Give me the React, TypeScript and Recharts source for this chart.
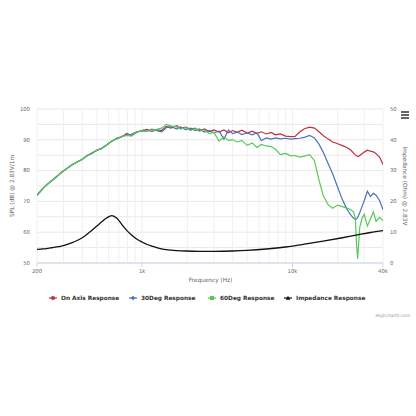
import React from 'react';
import { LineChart, Line, XAxis, YAxis, CartesianGrid, Legend } from 'recharts';

const freqs = [200, 215, 230, 250, 270, 290, 315, 340, 370, 400, 430, 460, 500, 540, 580, 630, 680, 730, 790, 850, 920, 1000, 1080, 1160, 1250, 1350, 1450, 1550, 1700, 1800, 1950, 2100, 2250, 2400, 2600, 2800, 3000, 3250, 3500, 3750, 4000, 4300, 4600, 5000, 5400, 5800, 6200, 6700, 7200, 7700, 8300, 9000, 9700, 10400, 11200, 12000, 13000, 14000, 15000, 16000, 17200, 18500, 20000, 21500, 23000, 24500, 25500, 26200, 26700, 27100, 27500, 28000, 29000, 30000, 31500, 33000, 34500, 36000, 38000, 40000];

const onAxis = [72.0, 73.8, 75.2, 76.7, 78.0, 79.4, 80.6, 81.8, 82.8, 83.7, 84.8, 85.6, 86.5, 87.3, 88.2, 89.6, 90.4, 90.9, 92.1, 91.4, 92.4, 93.1,
  93.4, 92.7, 93.3, 93.0, 94.3, 93.8, 94.6, 93.7, 94.1, 93.4, 93.8, 92.9, 93.5, 92.7, 93.2,
  92.5, 93.2, 92.3, 93.0, 92.4, 93.1, 92.2, 92.8, 92.0, 92.6, 91.9, 92.4, 91.6, 91.9, 91.2, 91.0, 91.1,
  92.6, 93.6, 94.1, 93.8, 92.6, 91.4, 90.3, 89.3, 88.7, 88.1, 87.5, 86.6, 85.7, 85.1, 84.8, 84.6, 84.6, 84.9, 85.5, 86.0, 86.6, 86.3, 86.1, 85.5, 84.3, 82.0];

const deg30 = [72.0, 73.7, 75.3, 76.6, 78.1, 79.3, 80.7, 81.7, 82.9, 83.6, 84.9, 85.5, 86.7, 87.2, 88.4, 89.5, 90.6, 91.0, 91.6, 91.8, 92.6, 92.8,
  92.8, 93.5, 93.0, 92.6, 94.0, 94.3, 93.5, 94.2, 93.3, 93.8, 93.0, 93.5, 92.5, 93.0, 92.3,
  92.8, 90.2, 93.2, 92.0, 92.5, 91.7, 92.2, 91.6, 92.3, 89.8, 90.6, 90.2, 90.6, 90.3, 90.5, 90.2, 90.4,
  90.5, 90.8, 91.4, 90.6, 88.6, 86.0, 82.5, 79.0, 74.5, 70.5, 67.5, 65.5, 64.5, 64.2, 64.3, 64.8, 65.4, 66.3, 68.3, 70.2, 73.3, 71.6, 72.6, 72.0, 70.2, 67.3];

const deg60 = [72.1, 73.9, 75.1, 76.8, 77.9, 79.5, 80.6, 81.9, 82.7, 83.8, 84.7, 85.7, 86.6, 87.1, 88.3, 89.7, 90.3, 91.1, 91.4, 91.2, 92.5, 93.0,
  93.0, 92.8, 93.4, 93.8, 95.0, 94.5, 94.2, 93.5, 94.0, 93.0, 93.6, 92.8, 93.2, 92.0, 92.4,
  89.6, 91.0, 89.8, 90.0, 89.3, 89.8, 88.2, 89.0, 87.5, 88.5, 88.0, 87.8, 87.0, 85.2, 85.6, 84.8, 84.9,
  84.4, 84.7, 85.2, 83.2, 77.0, 72.0, 69.0, 67.8, 68.8, 68.3, 67.8, 67.3, 66.5, 64.5, 56.0, 51.3, 55.5, 61.5, 64.5, 65.8, 62.0, 64.3, 66.6, 63.5, 64.8, 63.8];

const impFreqs = [200, 215, 230, 250, 270, 290, 315, 340, 370, 400, 430, 460, 500, 540, 580, 630, 680, 730, 790, 850, 920, 1000, 1080, 1160, 1250, 1350, 1450, 1550, 1700, 1950, 2400, 3000, 4000, 5000, 6700, 9000, 12000, 16000, 21500, 27500, 33000, 40000];
const impedance = [4.4, 4.55, 4.7, 4.95, 5.2, 5.5, 5.95, 6.5, 7.3, 8.2, 9.3, 10.5, 12.0, 13.4, 14.6, 15.4, 14.5, 12.6, 10.6, 9.1, 7.8, 6.8, 6.0, 5.5, 5.0, 4.6, 4.35, 4.2, 4.05, 3.9, 3.8, 3.8, 3.9, 4.1, 4.55, 5.2, 6.1, 7.1, 8.2, 9.2, 9.9, 10.5];

const xTicks = [200, 300, 400, 500, 600, 700, 800, 900, 1000, 2000, 3000, 4000, 5000, 6000, 7000, 8000, 9000, 10000, 20000, 30000, 40000];
const xLabels: Record<number, string> = { 200: '200', 1000: '1k', 10000: '10k', 40000: '40k' };
const splTicks = [50, 55, 60, 65, 70, 75, 80, 85, 90, 95, 100];
const impTicks = [0, 10, 20, 30, 40, 50];

const seriesNames = ['On Axis Response', '30Deg Response', '60Deg Response', 'Impedance Response'];
const RED = '#c0303a';
const BLUE = '#4a72bd';
const GREEN = '#58c858';
const BLACK = '#111111';
const colors = [RED, BLUE, GREEN, BLACK];
const symbols = ['circle', 'diamond', 'square', 'triangle'];
const legendLefts = [49, 129, 208, 284];

const splData = freqs.map((f, i) => ({ f, onAxis: onAxis[i], deg30: deg30[i], deg60: deg60[i] }));
const impData = impFreqs.map((f, i) => ({ f, imp: impedance[i] }));

const FONT = '"DejaVu Sans", "Lucida Grande", Arial, sans-serif';

const XTick = (props: any) => {
  const { x, y, payload } = props;
  const label = xLabels[payload.value];
  if (!label) return <g />;
  return (
    <g>
      <line x1={x} x2={x} y1={y} y2={y + 4} stroke="#ccd6eb" strokeWidth={1} />
      <text x={x} y={y + 10} textAnchor="middle" fontSize={5.3} fill="#666" fontFamily={FONT}>{label}</text>
    </g>
  );
};

const LeftTick = (props: any) => {
  const { x, y, payload } = props;
  if (payload.value % 10 !== 0) return <g />;
  return <text x={x} y={y} dy="0.35em" textAnchor="end" fontSize={5.3} fill="#666" fontFamily={FONT}>{payload.value}</text>;
};

const RightTick = (props: any) => {
  const { x, y, payload } = props;
  return <text x={x} y={y} dy="0.35em" textAnchor="start" fontSize={5.3} fill="#666" fontFamily={FONT}>{payload.value}</text>;
};

const Marker = ({ kind, color }: { kind: string; color: string }) => {
  const cx = 4, cy = 4;
  let shape: any = null;
  if (kind === 'circle') shape = <circle cx={cx} cy={cy} r={2} fill={color} />;
  if (kind === 'diamond') shape = <path d={`M${cx} ${cy - 2.3} L${cx + 2.3} ${cy} L${cx} ${cy + 2.3} L${cx - 2.3} ${cy} Z`} fill={color} />;
  if (kind === 'square') shape = <rect x={cx - 2} y={cy - 2} width={4} height={4} fill={color} />;
  if (kind === 'triangle') shape = <path d={`M${cx} ${cy - 2.3} L${cx + 2.3} ${cy + 1.8} L${cx - 2.3} ${cy + 1.8} Z`} fill={color} />;
  return (
    <svg width={8} height={8} style={{ position: 'absolute', left: 0, top: 0 }}>
      <line x1={0} x2={8} y1={cy} y2={cy} stroke={color} strokeWidth={1.2} />
      {shape}
    </svg>
  );
};

const renderLegend = () => (
  <div style={{ position: 'relative', width: 416, height: 12 }}>
    {seriesNames.map((name, i) => (
      <div key={name} style={{ position: 'absolute', left: legendLefts[i], top: 0, height: 8 }}>
        <Marker kind={symbols[i]} color={colors[i]} />
        <span style={{ position: 'absolute', left: 12, top: 0, whiteSpace: 'nowrap', fontFamily: FONT, fontSize: 5.8, fontWeight: 'bold', color: '#333', lineHeight: '8px' }}>{name}</span>
      </div>
    ))}
  </div>
);

const LeftTitle = (props: any) => {
  const vb = props.viewBox || { x: 0, y: 109, width: 37, height: 154 };
  const cx = vb.x + 12;
  const cy = vb.y + vb.height / 2;
  return <text x={cx} y={cy} transform={`rotate(-90 ${cx} ${cy})`} textAnchor="middle" dy="0.35em" fontSize={5.8} fill="#666" fontFamily={FONT}>SPL (dB) @ 2.83V/1m</text>;
};

const RightTitle = (props: any) => {
  const vb = props.viewBox || { x: 383, y: 109, width: 33, height: 154 };
  const cx = vb.x + 22.5;
  const cy = vb.y + vb.height / 2;
  return <text x={cx} y={cy} transform={`rotate(90 ${cx} ${cy})`} textAnchor="middle" dy="0.35em" fontSize={5.8} fill="#666" fontFamily={FONT}>Impedance (Ohm) @ 2.83V</text>;
};

const XTitle = (props: any) => {
  const vb = props.viewBox || { x: 37, y: 263, width: 346, height: 20 };
  return <text x={vb.x + vb.width / 2 + 0.5} y={vb.y + 19} textAnchor="middle" fontSize={5.8} fill="#666" fontFamily={FONT}>Frequency (Hz)</text>;
};

export default function App() {
  return (
    <div style={{ position: 'absolute', left: 0, top: 0, width: 416, height: 416, background: '#fff', overflow: 'hidden' }}>
      <LineChart width={416} height={416} data={splData} margin={{ top: 109, right: 0, bottom: 133, left: 0 }}>
        <CartesianGrid yAxisId="left" vertical={false} stroke="#e8e8e8" strokeWidth={1} />
        <CartesianGrid yAxisId="left" horizontal={false} stroke="#f0f0f0" strokeWidth={1} />
        <XAxis
          dataKey="f"
          type="number"
          scale="log"
          domain={[200, 40000]}
          ticks={xTicks}
          allowDataOverflow
          height={20}
          tickSize={0}
          tickMargin={0}
          tickLine={false}
          axisLine={{ stroke: '#ccd6eb', strokeWidth: 1 }}
          tick={<XTick />}
          interval={0}
          label={<XTitle />}
        />
        <YAxis
          yAxisId="left"
          type="number"
          domain={[50, 100]}
          ticks={splTicks}
          width={37}
          tickSize={0}
          tickMargin={7}
          axisLine={false}
          tickLine={false}
          tick={<LeftTick />}
          interval={0}
          allowDataOverflow
          label={<LeftTitle />}
        />
        <YAxis
          yAxisId="right"
          orientation="right"
          type="number"
          domain={[0, 50]}
          ticks={impTicks}
          width={33}
          tickSize={0}
          tickMargin={7}
          axisLine={false}
          tickLine={false}
          tick={<RightTick />}
          interval={0}
          allowDataOverflow
          label={<RightTitle />}
        />
        <Legend layout="horizontal" verticalAlign="middle" align="center" wrapperStyle={{ top: 294, left: 0, width: 416, height: 12 }} content={renderLegend} />
        <Line yAxisId="left" name={seriesNames[0]} dataKey="onAxis" stroke={RED} strokeWidth={1.2} dot={false} activeDot={false} type="linear" isAnimationActive={false} />
        <Line yAxisId="left" name={seriesNames[1]} dataKey="deg30" stroke={BLUE} strokeWidth={1.2} dot={false} activeDot={false} type="linear" isAnimationActive={false} />
        <Line yAxisId="left" name={seriesNames[2]} dataKey="deg60" stroke={GREEN} strokeWidth={1.2} dot={false} activeDot={false} type="linear" isAnimationActive={false} />
        <Line yAxisId="right" name={seriesNames[3]} data={impData} dataKey="imp" stroke={BLACK} strokeWidth={1.3} dot={false} activeDot={false} type="monotone" isAnimationActive={false} />
      </LineChart>
      <div style={{ position: 'absolute', left: 401, top: 111, width: 8 }}>
        {[0, 1, 2].map((k) => (
          <div key={k} style={{ height: 1.5, background: '#666', marginBottom: 1.5 }} />
        ))}
      </div>
      <div style={{ position: 'absolute', right: 6, top: 313, fontFamily: FONT, fontSize: 4.4, color: '#999', whiteSpace: 'nowrap' }}>Highcharts.com</div>
    </div>
  );
}
